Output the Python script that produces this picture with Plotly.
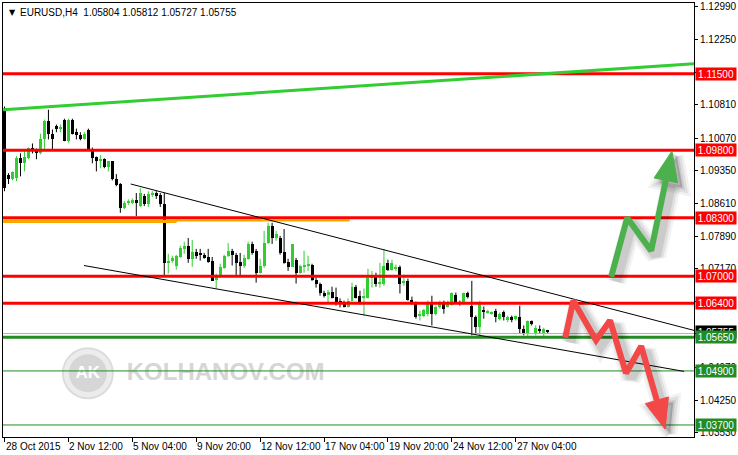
import plotly.graph_objects as go

# ---------------- data (EURUSD H4) ----------------
bar_index = list(range(137))
open_ = [1.1070,1.0925,1.0916,1.0918,1.0962,1.0951,1.0962,1.0984,1.0978,1.0973,
         1.1004,1.1046,1.1015,1.1033,1.1028,1.1048,1.1000,1.1048,1.1020,1.1013,
         1.1006,1.1026,1.0980,1.0964,1.0958,1.0960,1.0942,1.0955,1.0916,1.0905,
         1.0852,1.0863,1.0865,1.0869,1.0856,1.0878,1.0860,1.0880,1.0885,1.0880,
         1.0860,1.0730,1.0735,1.0724,1.0743,1.0761,1.0768,1.0739,1.0754,1.0750,
         1.0748,1.0743,1.0735,1.0693,1.0701,1.0719,1.0746,1.0757,1.0748,1.0732,
         1.0724,1.0739,1.0772,1.0757,1.0708,1.0724,1.0774,1.0812,1.0785,1.0785,
         1.0754,1.0732,1.0721,1.0737,1.0708,1.0721,1.0724,1.0726,1.0693,1.0684,
         1.0664,1.0659,1.0666,1.0655,1.0644,1.0644,1.0633,1.0646,1.0677,1.0657,
         1.0653,1.0653,1.0697,1.0704,1.0684,1.0684,1.0730,1.0715,1.0717,1.0721,
         1.0686,1.0690,1.0648,1.0642,1.0611,1.0613,1.0617,1.0642,1.0617,1.0633,
         1.0642,1.0633,1.0637,1.0659,1.0642,1.0640,1.0662,1.0635,1.0609,1.0587,
         1.0626,1.0620,1.0617,1.0622,1.0606,1.0620,1.0604,1.0609,1.0606,1.0609,
         1.0584,1.0573,1.0600,1.0573,1.0584,1.0575,1.05804]
high = [1.1077,1.0929,1.0933,1.0967,1.0973,1.0982,1.0986,1.0995,1.0984,1.1017,
        1.1048,1.1070,1.1026,1.1037,1.1037,1.1050,1.1050,1.1050,1.1028,1.1020,
        1.1020,1.1028,1.0986,1.0966,1.0969,1.0962,1.0955,1.0955,1.0927,1.0907,
        1.0867,1.0871,1.0873,1.0885,1.0896,1.0883,1.0889,1.0889,1.0889,1.0885,
        1.0885,1.0750,1.0746,1.0748,1.0768,1.0777,1.0785,1.0781,1.0761,1.0761,
        1.0752,1.0761,1.0743,1.0706,1.0728,1.0748,1.0774,1.0761,1.0752,1.0752,
        1.0748,1.0777,1.0777,1.0761,1.0739,1.0801,1.0819,1.0819,1.0801,1.0790,
        1.0805,1.0739,1.0772,1.0741,1.0726,1.0757,1.0746,1.0728,1.0697,1.0686,
        1.0668,1.0670,1.0677,1.0675,1.0651,1.0646,1.0651,1.0686,1.0681,1.0668,
        1.0673,1.0717,1.0712,1.0708,1.0730,1.0761,1.0737,1.0737,1.0726,1.0724,
        1.0704,1.0695,1.0655,1.0644,1.0624,1.0628,1.0646,1.0657,1.0635,1.0646,
        1.0646,1.0646,1.0664,1.0664,1.0646,1.0664,1.0666,1.0690,1.0613,1.0646,
        1.0633,1.0626,1.0622,1.0628,1.0620,1.0624,1.0613,1.0613,1.0613,1.0635,
        1.0591,1.0602,1.0602,1.0591,1.0591,1.0586,1.05812]
low = [1.0889,1.0905,1.0913,1.0911,1.0922,1.0933,1.0960,1.0973,1.0960,1.0971,
       1.0982,1.1004,1.0982,1.1020,1.1020,1.1000,1.0997,1.1015,1.1004,1.1002,
       1.1004,1.0980,1.0951,1.0933,1.0940,1.0940,1.0933,1.0913,1.0900,1.0841,
       1.0849,1.0858,1.0860,1.0834,1.0854,1.0856,1.0854,1.0876,1.0872,1.0854,
       1.0701,1.0706,1.0730,1.0715,1.0741,1.0750,1.0730,1.0721,1.0739,1.0735,
       1.0739,1.0730,1.0690,1.0673,1.0697,1.0717,1.0743,1.0724,1.0701,1.0701,
       1.0719,1.0737,1.0748,1.0686,1.0706,1.0719,1.0772,1.0772,1.0779,1.0748,
       1.0728,1.0712,1.0721,1.0684,1.0706,1.0708,1.0712,1.0690,1.0675,1.0657,
       1.0653,1.0639,1.0651,1.0635,1.0631,1.0631,1.0631,1.0644,1.0651,1.0637,
       1.0613,1.0651,1.0675,1.0677,1.0675,1.0679,1.0712,1.0712,1.0712,1.0662,
       1.0679,1.0646,1.0637,1.0606,1.0602,1.0609,1.0611,1.0591,1.0613,1.0628,
       1.0617,1.0631,1.0635,1.0640,1.0635,1.0637,1.0651,1.0569,1.0573,1.0564,
       1.0606,1.0617,1.0615,1.0598,1.0602,1.0602,1.0598,1.0598,1.0602,1.0573,
       1.0569,1.0564,1.0591,1.0569,1.0573,1.0562,1.05727]
close = [1.0896,1.0916,1.0931,1.0962,1.0951,1.0964,1.0984,1.0982,1.0973,1.1004,
         1.1046,1.1015,1.1004,1.1028,1.1031,1.1000,1.1048,1.1017,1.1013,1.1006,
         1.1017,1.0982,1.0962,1.0955,1.0960,1.0942,1.0955,1.0916,1.0903,1.0852,
         1.0863,1.0867,1.0869,1.0863,1.0885,1.0860,1.0883,1.0885,1.0878,1.0860,
         1.0730,1.0735,1.0741,1.0746,1.0763,1.0768,1.0739,1.0754,1.0746,1.0748,
         1.0741,1.0732,1.0690,1.0704,1.0721,1.0746,1.0757,1.0748,1.0730,1.0724,
         1.0741,1.0772,1.0752,1.0708,1.0724,1.0774,1.0812,1.0785,1.0794,1.0752,
         1.0730,1.0721,1.0772,1.0708,1.0724,1.0724,1.0726,1.0693,1.0684,1.0664,
         1.0657,1.0666,1.0653,1.0642,1.0642,1.0633,1.0646,1.0677,1.0653,1.0640,
         1.0657,1.0697,1.0704,1.0684,1.0686,1.0724,1.0715,1.0730,1.0721,1.0684,
         1.0690,1.0648,1.0642,1.0609,1.0617,1.0626,1.0644,1.0617,1.0631,1.0642,
         1.0628,1.0642,1.0662,1.0642,1.0640,1.0662,1.0655,1.0609,1.0587,1.0640,
         1.0622,1.0624,1.0620,1.0609,1.0617,1.0609,1.0609,1.0602,1.0611,1.0584,
         1.0573,1.0600,1.0595,1.0586,1.0578,1.0582,1.05755]

x_tick_bars = [0, 16, 32, 48, 64, 80, 96, 112, 128]
x_tick_text = ["28 Oct 2015", "2 Nov 12:00", "5 Nov 04:00", "9 Nov 20:00", "12 Nov 12:00",
               "17 Nov 04:00", "19 Nov 20:00", "24 Nov 12:00", "27 Nov 04:00"]
y_tick_vals = [1.1299, 1.1225, 1.1153, 1.1081, 1.1007, 1.0935, 1.0861, 1.0789,
               1.0717, 1.0645, 1.0573, 1.0497, 1.0425, 1.0353]

resistance_levels = [1.1150, 1.0980, 1.0830, 1.0700, 1.0640]
support_levels = [1.0565, 1.0490, 1.0370]
support_widths = [3, 1, 1]
last_price = 1.05755
ask_line = 1.0573

green_trend_x = [-0.375, 172.625]
green_trend_y = [1.1070, 1.1172]
channel_upper_x = [31.6, 172.625]
channel_upper_y = [1.0905, 1.0580]
channel_lower_x = [19.9, 170.1]
channel_lower_y = [1.0724, 1.0489]
orange_long_x = [-0.375, 86.4]
orange_long_y = [1.0824, 1.0824]
orange_short_x = [-0.375, 43.1]
orange_short_y = [1.0822, 1.0822]

bull_arrow_x = [151.9, 155.9, 161.9, 167.1]
bull_arrow_y = [1.0699, 1.0830, 1.0757, 1.0978]
bear_arrow_x = [140.4, 142.4, 148.1, 151.6, 155.6, 159.4, 165.4]
bear_arrow_y = [1.0564, 1.0646, 1.0558, 1.0602, 1.0485, 1.0545, 1.0361]

header = "EURUSD,H4  1.05804 1.05812 1.05727 1.05755"

# ---------------- geometry helpers ----------------
W, H = 738, 455
ML, MR, MT, MB = 3, 43, 1, 18
PW, PH = W - ML - MR, H - MT - MB
X_RANGE = [-0.375, 172.625]
Y_RANGE = [1.03433, 1.13069]
SX = PW / (X_RANGE[1] - X_RANGE[0])
SY = PH / (Y_RANGE[1] - Y_RANGE[0])


def to_px(i, p):
    return ML + (i - X_RANGE[0]) * SX, MT + (Y_RANGE[1] - p) * SY


def to_data(x, y):
    return X_RANGE[0] + (x - ML) / SX, Y_RANGE[1] - (y - MT) / SY


FONT = "Liberation Sans, Arial, sans-serif"
GREEN_C = "#32cd32"
fig = go.Figure()

# watermark (below everything)
wm_cx, wm_cy = to_data(88, 373)
fig.add_shape(type="circle", xref="x", yref="y", xsizemode="pixel", ysizemode="pixel",
              xanchor=wm_cx, yanchor=wm_cy, x0=-25, x1=25, y0=-25, y1=25,
              fillcolor="#ececec", line=dict(color="#dcdcdc", width=2), layer="below")
fig.add_shape(type="circle", xref="x", yref="y", xsizemode="pixel", ysizemode="pixel",
              xanchor=wm_cx, yanchor=wm_cy, x0=-19, x1=19, y0=-19, y1=19,
              fillcolor="#d6d6d6", line=dict(width=0), layer="below")
fig.add_trace(go.Scatter(x=[wm_cx], y=[wm_cy], mode="text", text=["AK"],
                         textfont=dict(family=FONT, size=17, color="white", weight="bold"),
                         textposition="middle center"))
tx, ty = to_data(226, 374)
fig.add_trace(go.Scatter(x=[tx], y=[ty], mode="text", text=["KOLHANOV.COM"],
                         textfont=dict(family=FONT, size=24, color="#d6d6d6", weight="bold"),
                         textposition="middle center"))

# candles
for bull, col in [(True, GREEN_C), (False, "#000000")]:
    wx, wy, bx, bb, bh = [], [], [], [], []
    for i, o, h, l, c in zip(bar_index, open_, high, low, close):
        if (c >= o) != bull:
            continue
        wx += [i, i, None]
        wy += [l, h, None]
        bx.append(i)
        bb.append(min(o, c))
        bh.append(max(abs(c - o), 0.00022))
    fig.add_trace(go.Scatter(x=wx, y=wy, mode="lines", line=dict(color=col, width=1)))
    fig.add_trace(go.Bar(x=bx, y=bh, base=bb, width=0.75, marker=dict(color=col, line=dict(width=0))))

# level lines
full_x = [X_RANGE[0], X_RANGE[1]]
fig.add_trace(go.Scatter(x=full_x, y=[ask_line, ask_line], mode="lines", line=dict(color="#b0b0b0", width=1)))
fig.add_trace(go.Scatter(x=orange_long_x, y=orange_long_y, mode="lines", line=dict(color="#ffa500", width=2)))
fig.add_trace(go.Scatter(x=orange_short_x, y=orange_short_y, mode="lines", line=dict(color="#ffa500", width=3)))
for lv in resistance_levels:
    fig.add_trace(go.Scatter(x=full_x, y=[lv, lv], mode="lines", line=dict(color="#ff0000", width=3)))
for lv, w in zip(support_levels, support_widths):
    fig.add_trace(go.Scatter(x=full_x, y=[lv, lv], mode="lines", line=dict(color="#228b22", width=w)))

# trend lines
fig.add_trace(go.Scatter(x=green_trend_x, y=green_trend_y, mode="lines", line=dict(color=GREEN_C, width=3)))
fig.add_trace(go.Scatter(x=channel_upper_x, y=channel_upper_y, mode="lines", line=dict(color="black", width=1)))
fig.add_trace(go.Scatter(x=channel_lower_x, y=channel_lower_y, mode="lines", line=dict(color="black", width=1)))


# arrows with soft shadow
def add_arrow(xs, ys, color, width=6, head_len=30, head_half=12):
    pts = [to_px(a, b) for a, b in zip(xs, ys)]
    (x1, y1), (x2, y2) = pts[-2], pts[-1]
    d = ((x2 - x1) ** 2 + (y2 - y1) ** 2) ** 0.5
    ux, uy = (x2 - x1) / d, (y2 - y1) / d
    nx, ny = -uy, ux
    bx, by = x2 - ux * head_len, y2 - uy * head_len
    line_pts = pts[:-1] + [(bx, by)]
    tri = [(x2, y2), (bx + nx * head_half, by + ny * head_half),
           (bx - nx * head_half, by - ny * head_half), (x2, y2)]
    for sw, a in [(20, 0.05), (15, 0.07), (10, 0.09)]:
        off = 5
        lp = [to_data(x + off, y + off) for x, y in line_pts]
        tp = [to_data(x + off, y + off) for x, y in tri]
        c = f"rgba(0,0,0,{a})"
        fig.add_trace(go.Scatter(x=[q[0] for q in lp], y=[q[1] for q in lp], mode="lines",
                                 line=dict(color=c, width=sw)))
        fig.add_trace(go.Scatter(x=[q[0] for q in tp], y=[q[1] for q in tp], mode="lines",
                                 fill="toself", fillcolor=c, line=dict(color=c, width=sw - 6)))
    lp = [to_data(x, y) for x, y in line_pts]
    tp = [to_data(x, y) for x, y in tri]
    fig.add_trace(go.Scatter(x=[q[0] for q in lp], y=[q[1] for q in lp], mode="lines",
                             line=dict(color=color, width=width)))
    fig.add_trace(go.Scatter(x=[q[0] for q in tp], y=[q[1] for q in tp], mode="lines",
                             fill="toself", fillcolor=color, line=dict(color=color, width=1)))


add_arrow(bull_arrow_x, bull_arrow_y, "#4cb04c")
add_arrow(bear_arrow_x, bear_arrow_y, "#f24848")

# ---------------- annotations ----------------
ann = []
ann.append(dict(xref="paper", yref="paper", x=0, y=1, xshift=4, yshift=-3, xanchor="left", yanchor="top",
                text="▼", showarrow=False, font=dict(family="DejaVu Sans", size=8, color="black")))
ann.append(dict(xref="paper", yref="paper", x=0, y=1, xshift=15, yshift=-2, xanchor="left", yanchor="top",
                text=header, showarrow=False, font=dict(family=FONT, size=10, color="black")))
for tv, tt in zip(x_tick_bars, x_tick_text):
    ann.append(dict(xref="x", yref="paper", x=tv, y=0, xshift=-1, yshift=-2, xanchor="left", yanchor="top",
                    text=tt, showarrow=False, font=dict(family=FONT, size=10, color="black")))


def price_label(v, bg):
    return dict(xref="paper", yref="y", x=1, y=v, xshift=1, xanchor="left", yanchor="middle",
                text=f"{v:.5f}", showarrow=False, bgcolor=bg, width=40, height=12, borderpad=0,
                align="center", font=dict(family=FONT, size=10, color="white"))


ann.append(price_label(last_price, "#000000"))
for lv in resistance_levels:
    ann.append(price_label(lv, "#ff0000"))
for lv in support_levels:
    ann.append(price_label(lv, "#228b22"))

fig.update_layout(
    width=W, height=H, margin=dict(l=ML, r=MR, t=MT, b=MB),
    paper_bgcolor="white", plot_bgcolor="white", showlegend=False, hovermode=False,
    barmode="overlay", bargap=0, annotations=ann,
    font=dict(family=FONT, size=10, color="black"),
    xaxis=dict(range=X_RANGE, tickvals=x_tick_bars, showticklabels=False, ticks="outside",
               ticklen=4, tickcolor="black", showline=True, linecolor="black", linewidth=1,
               mirror=True, showgrid=False, zeroline=False, fixedrange=True),
    yaxis=dict(range=Y_RANGE, side="right", tickvals=y_tick_vals,
               ticktext=[f"{v:.5f}" for v in y_tick_vals], ticks="outside", ticklen=3,
               tickcolor="black", showline=True, linecolor="black", linewidth=1, mirror=True,
               showgrid=False, zeroline=False, tickfont=dict(family=FONT, size=10, color="black"),
               ticklabeloverflow="allow", fixedrange=True),
)

fig.write_html("out.html", config={"displayModeBar": False},
               post_script="document.body.style.margin='0';document.body.style.overflow='hidden';")
